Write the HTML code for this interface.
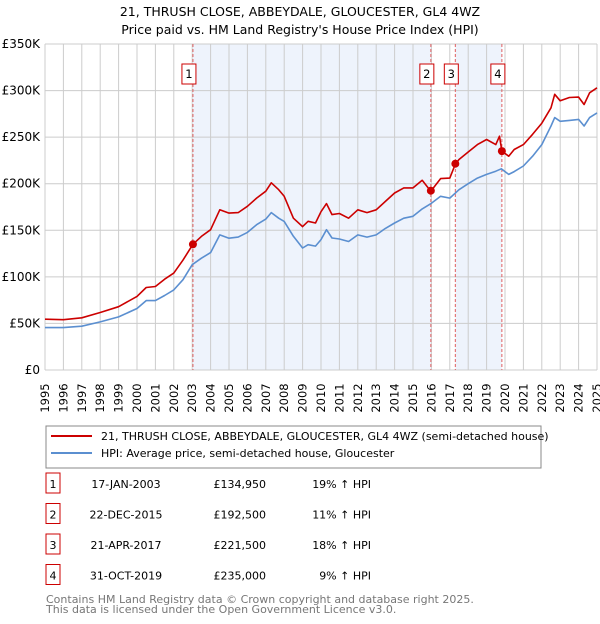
<!DOCTYPE html>
<html><head><meta charset="utf-8"><style>
body{margin:0;background:#fff;width:600px;height:620px;overflow:hidden;font-family:"DejaVu Sans","Liberation Sans",sans-serif;}
svg text{font-family:"DejaVu Sans","Liberation Sans",sans-serif;}
</style></head><body>
<svg id="chart" width="600" height="620" xmlns="http://www.w3.org/2000/svg">
<text x="300" y="16" text-anchor="middle" font-size="12.5">21, THRUSH CLOSE, ABBEYDALE, GLOUCESTER, GL4 4WZ</text>
<text x="300" y="34" text-anchor="middle" font-size="12.5">Price paid vs. HM Land Registry's House Price Index (HPI)</text>
<g id="plot"></g>
<rect x="46" y="426" width="495" height="42" fill="#fff" stroke="#888"/>
<line x1="51" y1="436" x2="92" y2="436" stroke="#cc0000" stroke-width="2"/>
<text x="101" y="440" font-size="11">21, THRUSH CLOSE, ABBEYDALE, GLOUCESTER, GL4 4WZ (semi-detached house)</text>
<line x1="51" y1="453" x2="92" y2="453" stroke="#5b8fd0" stroke-width="2"/>
<text x="101" y="457" font-size="11">HPI: Average price, semi-detached house, Gloucester</text>
<g id="table"></g>
<text x="46" y="603" font-size="11" fill="#777">Contains HM Land Registry data © Crown copyright and database right 2025.</text>
<text x="46" y="613" font-size="11" fill="#777">This data is licensed under the Open Government Licence v3.0.</text>
</svg>
<script>
const hpiYears=[1995,1996,1997,1998,1999,2000,2000.5,2001,2001.5,2002,2002.5,2003,2003.5,2004,2004.5,2005,2005.5,2006,2006.5,2007,2007.3,2007.7,2008,2008.5,2009,2009.3,2009.7,2010,2010.3,2010.6,2011,2011.5,2012,2012.5,2013,2013.5,2014,2014.5,2015,2015.5,2016,2016.5,2017,2017.5,2018,2018.5,2019,2019.5,2019.8,2020.2,2020.5,2021,2021.5,2022,2022.5,2022.7,2023,2023.5,2024,2024.3,2024.6,2025];
const hpiValues=[45.5,45.5,47,51.6,57,66,74.5,74.5,80,86,97,113,120,126,145,141.5,142.7,147.7,156,162,169,163,159.5,143.5,131,134.5,133,140,150.6,141.7,140.6,138,145,142.7,145,152,157.8,163,165,173,179,186.5,184.6,193.6,200,206,210,213.4,216,210,213,219,229.5,242,262,271,267,268,269,262,271,276];
const propYears=[1995,1996,1997,1998,1999,2000,2000.5,2001,2001.5,2002,2002.5,2003.04,2003.5,2004,2004.5,2005,2005.5,2006,2006.5,2007,2007.3,2007.7,2008,2008.5,2009,2009.3,2009.7,2010,2010.3,2010.6,2011,2011.5,2012,2012.5,2013,2013.5,2014,2014.5,2015,2015.5,2015.97,2016.5,2017,2017.3,2017.5,2018,2018.5,2019,2019.5,2019.7,2019.83,2020.2,2020.5,2021,2021.5,2022,2022.5,2022.7,2023,2023.5,2024,2024.3,2024.6,2025];
const propValues=[54.5,54,56,61.7,68,79,88.6,89.6,97.5,104,118,135,143.4,150.6,172,168.5,169,175.7,184.6,192,201,193.6,186.5,163,154,159.6,157.8,170,178.6,166.8,168,163,172,169,172,181,190,195.5,195.5,203.7,192,205.5,206,221,226,234,242,247.5,242,251,235,229.5,236.7,242,253,265,281.5,296,289,292.6,293,285,297.6,303];
const saleLabels=["1","2","3","4"];
const saleYears=[2003.04,2015.97,2017.3,2019.83];
const saleValues=[134.95,192.5,221.5,235];
const saleDates=["17-JAN-2003","22-DEC-2015","21-APR-2017","31-OCT-2019"];
const salePrices=["£134,950","£192,500","£221,500","£235,000"];
const salePct=["19% ↑ HPI","11% ↑ HPI","18% ↑ HPI","9% ↑ HPI"];
const yTicks=[0,50,100,150,200,250,300,350];
const yTickLabels=["£0","£50K","£100K","£150K","£200K","£250K","£300K","£350K"];
const xTicks=[1995,1996,1997,1998,1999,2000,2001,2002,2003,2004,2005,2006,2007,2008,2009,2010,2011,2012,2013,2014,2015,2016,2017,2018,2019,2020,2021,2022,2023,2024,2025];

const NS="http://www.w3.org/2000/svg";
const L=45,R=597,T=44,B=370,X0=1995,X1=2025,YMAX=350;
const xs=v=>L+(v-X0)/(X1-X0)*(R-L);
const ys=v=>B-v/YMAX*(B-T);
const plot=document.getElementById('plot');
function mk(tag,attrs,parent){const e=document.createElementNS(NS,tag);for(const k in attrs)e.setAttribute(k,attrs[k]);(parent||plot).appendChild(e);return e;}

// shaded ownership regions
for(let i=0;i<saleYears.length;i+=2){
  const r=mk('rect',{x:xs(saleYears[i]),y:T,width:xs(saleYears[i+1])-xs(saleYears[i]),height:B-T,fill:'#eef3fc'});
  
  
}
xTicks.forEach((t,i)=>{
  const g=mk('line',{x1:xs(t),x2:xs(t),y1:T,y2:B,stroke:'#cccccc','stroke-width':1});
  
  
  const x=xs(t),y=398;
  const tx=mk('text',{x:x,y:y,'font-size':11.5,'text-anchor':'middle','dominant-baseline':'central',transform:`rotate(-90 ${x} ${y})`});
  tx.textContent=t;
  
  
});
yTicks.forEach((t,i)=>{
  const g=mk('line',{x1:L,x2:R,y1:ys(t),y2:ys(t),stroke:'#cccccc','stroke-width':1});
  
  
  const tx=mk('text',{x:40,y:ys(t)+4,'font-size':12,'text-anchor':'end'});
  tx.textContent=yTickLabels[i];
  
  
});
// sale lines
saleYears.forEach((yr,i)=>{
  const l=mk('line',{x1:xs(yr),x2:xs(yr),y1:T,y2:B,stroke:'#e06060','stroke-width':1,'stroke-dasharray':'3,2'});
  
  
  const bx=mk('rect',{x:xs(yr)-11,y:64,width:14,height:20,fill:'#fff',stroke:'#cc0000'});
  
  
  const t=mk('text',{x:xs(yr)-4,y:78,'font-size':11.5,'text-anchor':'middle'});
  t.textContent=saleLabels[i];
  
  
});
function line(xa,va,col,name){
  const p=mk('polyline',{points:xa.map((x,i)=>xs(x).toFixed(1)+','+ys(va[i]).toFixed(1)).join(' '),fill:'none',stroke:col,'stroke-width':1.6,'stroke-linejoin':'round'});
  
  
}
line(hpiYears,hpiValues,'#5b8fd0','hpi-line');
line(propYears,propValues,'#cc0000','property-line');
saleYears.forEach((yr,i)=>{
  const c=mk('circle',{cx:xs(yr),cy:ys(saleValues[i]),r:4,fill:'#cc0000'});
  
  
});
// table
const tb=document.getElementById('table');
saleLabels.forEach((s,i)=>{
  const y=484+i*30.5;
  const b=mk('rect',{x:46,y:y-11,width:14,height:20,fill:'#fff',stroke:'#cc0000'},tb);
  
  
  const cells=[[53,'middle',s],[126,'middle',saleDates[i]],[266,'end',salePrices[i]],[371,'end',salePct[i]]];
  cells.forEach(c=>{
    const t=mk('text',{x:c[0],y:y+4,'font-size':11,'text-anchor':c[1]},tb);
    t.textContent=c[2];
    
    
  });
});
</script>
</body></html>
